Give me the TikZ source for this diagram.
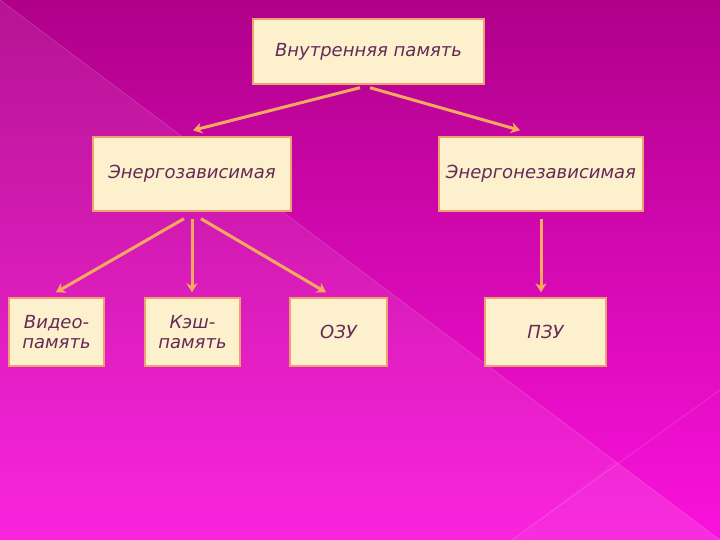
\documentclass[tikz,border=0pt]{standalone}
\usepackage{fontspec}
\setmainfont{DejaVu Sans}
\usetikzlibrary{arrows.meta}
\definecolor{bgtop}{HTML}{B0008A}
\definecolor{bgbot}{HTML}{FA12DC}
\definecolor{boxfill}{HTML}{FDF0CC}
\definecolor{boxedge}{HTML}{F0A070}
\definecolor{txt}{HTML}{642A58}
\definecolor{arr}{HTML}{F9A95E}
\tikzset{
  box/.style={draw=boxedge, line width=1.4pt, fill=boxfill, inner sep=2pt,
    text=txt, align=center,
    font=\fontsize{18}{20}\selectfont\itshape},
  link/.style={draw=arr, line width=3pt, -{Stealth[length=9pt,width=11pt]}}
}
\begin{document}
\begin{tikzpicture}[x=1pt,y=-1pt]
\useasboundingbox (0,0) rectangle (720,540);
% background
\shade[top color=bgtop, bottom color=bgbot] (0,0) rectangle (720,540);
\fill[white, opacity=0.08] (0,0) -- (720,540) -- (0,540) -- cycle;
\fill[white, opacity=0.04] (615,461) -- (720,540) -- (512,540) -- cycle;
\draw[white, opacity=0.15, line width=0.8pt] (0,0) -- (720,540);
\draw[white, opacity=0.15, line width=0.8pt] (720,390) -- (512,540);
% boxes
\node[box, minimum width=231pt, minimum height=65pt] (top) at (368.5,51.5) {Внутренняя память};
\node[box, minimum width=198pt, minimum height=74pt] (ez) at (192,174) {Энергозависимая};
\node[box, minimum width=204pt, minimum height=74pt] (enz) at (541,174) {Энергонезависимая};
\node[box, minimum width=95pt, minimum height=68pt] (video) at (56.5,332) {Видео-\\память};
\node[box, minimum width=95pt, minimum height=68pt] (cache) at (192.5,332) {Кэш-\\память};
\node[box, minimum width=97pt, minimum height=68pt] (ozu) at (338.5,332) {ОЗУ};
\node[box, minimum width=121pt, minimum height=68pt] (pzu) at (545.5,332) {ПЗУ};
% connectors
\draw[link] ([xshift=-8.5pt,yshift=-3pt]top.south) -- ([xshift=1pt,yshift=6pt]ez.north);
\draw[link] ([xshift=1.5pt,yshift=-3pt]top.south) -- ([xshift=-21pt,yshift=6pt]enz.north);
\draw[link] ([xshift=-8pt,yshift=-7pt]ez.south) -- ([xshift=-0.5pt,yshift=5pt]video.north);
\draw[link] ([yshift=-7pt]ez.south) -- ([xshift=-0.5pt,yshift=5pt]cache.north);
\draw[link] ([xshift=9pt,yshift=-7pt]ez.south) -- ([xshift=-12.5pt,yshift=5pt]ozu.north);
\draw[link] ([yshift=-7pt]enz.south) -- ([xshift=-4.5pt,yshift=5pt]pzu.north);
\end{tikzpicture}
\end{document}
